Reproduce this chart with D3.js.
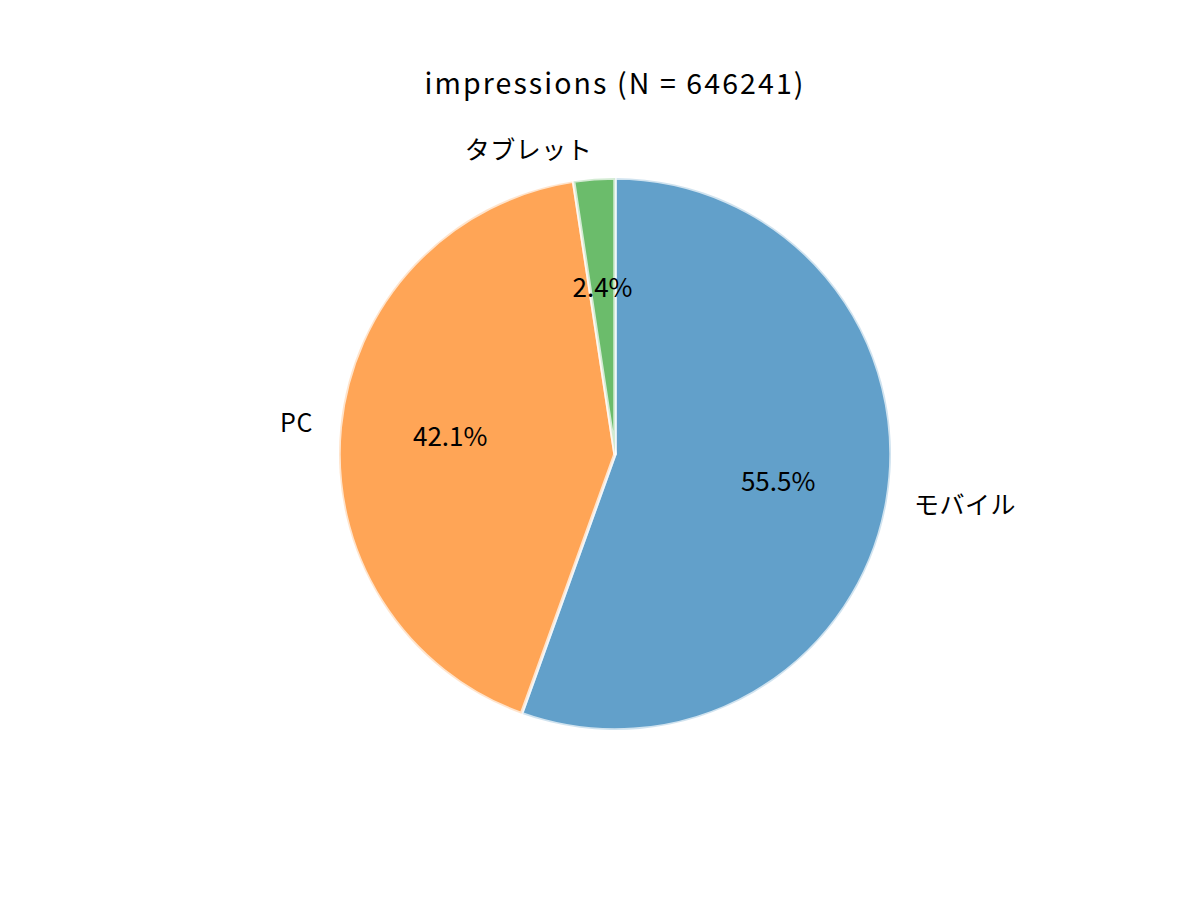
<!DOCTYPE html>
<html>
<head>
<meta charset="utf-8">
<script src="https://cdn.jsdelivr.net/npm/d3@7"></script>
<style>
  body { margin: 0; background: #fff; }
  text { font-family: "Noto Sans CJK JP", "Noto Sans", sans-serif; fill: #000; }
</style>
</head>
<body>
<svg id="chart" width="1200" height="900"></svg>
<script>
// data
const title = 'impressions (N = 646241)';
const categories = ['モバイル', 'PC', 'タブレット'];
const shares = [55.5, 42.1, 2.4];
const colors = ['#1f77b4', '#ff7f0e', '#2ca02c'];

const width = 1200, height = 900;
const cx = 615, cy = 454, radius = 276;

const svg = d3.select('#chart');

svg.append('text')
    .attr('x', 615)
    .attr('y', 81)
    .attr('text-anchor', 'middle')
    .attr('dominant-baseline', 'central')
    .style('font-size', '28.5px')
    .style('letter-spacing', '2.1px')
    .text(title);

const slices = categories.map((c, i) => ({ name: c, value: shares[i], color: colors[i] }));

// clockwise from 12 o'clock, like startangle=90, counterclock=False
const pie = d3.pie().sort(null).value(d => d.value);
const arcs = pie(slices);
const arc = d3.arc().innerRadius(0).outerRadius(radius);
const total = d3.sum(shares);

const g = svg.append('g').attr('transform', `translate(${cx},${cy})`);

g.selectAll('path.wedge')
    .data(arcs)
    .enter().append('path')
    .attr('class', 'wedge')
    .attr('d', arc)
    .attr('fill', d => d.data.color)
    .attr('fill-opacity', 0.7)
    .attr('stroke', '#fff')
    .attr('stroke-opacity', 0.7)
    .attr('stroke-width', 3.5)
    .attr('stroke-linejoin', 'round');

function pos(d, k) {
    let a = (d.startAngle + d.endAngle) / 2;
    return [Math.sin(a) * radius * k, -Math.cos(a) * radius * k];
}

// category labels at 1.1 r
g.selectAll('text.label')
    .data(arcs)
    .enter().append('text')
    .attr('class', 'label')
    .attr('x', d => pos(d, 1.1)[0])
    .attr('y', d => pos(d, 1.1)[1] - 3)
    .attr('text-anchor', d => pos(d, 1.1)[0] < 0 ? 'end' : 'start')
    .attr('dominant-baseline', 'central')
    .style('font-size', '25px')
    .style('letter-spacing', '0.5px')
    .text(d => d.data.name);

// percent labels at 0.6 r
g.selectAll('text.pct')
    .data(arcs)
    .enter().append('text')
    .attr('class', 'pct')
    .attr('x', d => pos(d, 0.6)[0])
    .attr('y', d => pos(d, 0.6)[1] - 3)
    .attr('text-anchor', 'middle')
    .attr('dominant-baseline', 'central')
    .style('font-size', '26px')
    .text(d => (d.data.value / total * 100).toFixed(1) + '%');
</script>
</body>
</html>
